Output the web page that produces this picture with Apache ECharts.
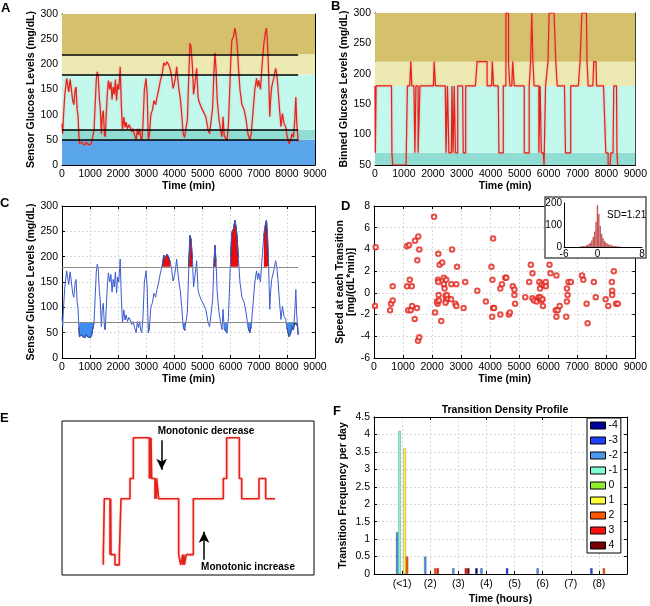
<!DOCTYPE html>
<html>
<head>
<meta charset="utf-8">
<script src="https://cdn.jsdelivr.net/npm/echarts@6/dist/echarts.min.js"></script>
<style>
html, body { margin: 0; padding: 0; background: #fff; }
#chart { width: 650px; height: 606px; }
</style>
</head>
<body>
<div id="chart"></div>
<script>
// ---- sensor trace, panels A / B / C (min, mg/dL) ----
const glucoseTime = [0, 25, 50, 100, 166, 200, 240, 290, 330, 380, 420, 470, 500, 540, 570, 600, 620, 660, 700, 740, 780, 820, 860, 900, 950, 1000, 1050, 1100, 1140, 1180, 1220, 1256, 1290, 1330, 1360, 1400, 1430, 1470, 1510, 1540, 1570, 1610, 1650, 1700, 1740, 1780, 1820, 1860, 1900, 1940, 1980, 2020, 2070, 2110, 2150, 2200, 2240, 2280, 2330, 2380, 2430, 2480, 2530, 2580, 2640, 2680, 2720, 2760, 2800, 2840, 2880, 2930, 2990, 3030, 3070, 3110, 3160, 3220, 3270, 3330, 3380, 3440, 3500, 3560, 3620, 3680, 3730, 3790, 3850, 3900, 3950, 3990, 4030, 4080, 4120, 4160, 4210, 4260, 4310, 4360, 4410, 4460, 4500, 4550, 4590, 4640, 4680, 4730, 4790, 4840, 4880, 4950, 5040, 5120, 5200, 5250, 5300, 5360, 5400, 5440, 5480, 5520, 5580, 5640, 5690, 5730, 5770, 5820, 5870, 5920, 5960, 6000, 6040, 6100, 6150, 6190, 6230, 6270, 6330, 6400, 6480, 6550, 6620, 6680, 6730, 6800, 6860, 6920, 6960, 7000, 7060, 7120, 7180, 7240, 7275, 7310, 7350, 7390, 7420, 7460, 7530, 7600, 7640, 7680, 7740, 7790, 7840, 7900, 7960, 8000, 8040, 8080, 8130, 8180, 8230, 8280, 8318, 8350, 8380, 8400];
const glucoseValue = [82, 62, 95, 140, 172, 160, 145, 170, 168, 128, 120, 150, 155, 110, 98, 60, 42, 40, 46, 42, 45, 40, 46, 42, 44, 40, 44, 47, 70, 120, 170, 185, 175, 130, 115, 62, 95, 108, 60, 56, 95, 140, 168, 150, 165, 130, 155, 140, 170, 128, 160, 150, 195, 120, 70, 95, 75, 85, 72, 80, 75, 66, 72, 60, 50, 72, 60, 72, 55, 50, 80, 150, 172, 140, 50, 60, 100, 110, 128, 120, 135, 150, 168, 180, 203, 198, 205, 200, 190, 175, 152, 160, 172, 195, 170, 150, 132, 100, 62, 55, 56, 90, 160, 242, 235, 195, 140, 162, 192, 135, 125, 115, 105, 95, 69, 62, 65, 115, 180, 223, 190, 130, 92, 70, 56, 96, 58, 60, 49, 80, 140, 200, 248, 255, 272, 260, 240, 200, 150, 120, 110, 89, 60, 50, 62, 109, 150, 172, 155, 168, 150, 200, 241, 265, 272, 241, 182, 96, 130, 155, 172, 192, 180, 155, 109, 76, 102, 82, 76, 60, 50, 42, 48, 62, 55, 90, 135, 85, 62, 46];
const bandEdges = [0, 50, 70, 180, 220, 300];
const binLevels = [50, 70, 180, 220, 300];
const lowThreshold = 70;
const highThreshold = 180;
const traceEnd = 8400;
const hyperIntervals = [[3550, 3860], [4500, 4660], [5390, 5490], [6000, 6290], [7170, 7360]];
const hypoIntervals = [[590, 1140], [1490, 1560], [2620, 2670], [3050, 3120], [4300, 4420], [5680, 5700], [5760, 5880], [6610, 6740], [7990, 8400]];

// ---- panel D: speed at each transition ----
const speedTime = [56, 34, 554, 588, 644, 644, 1130, 1209, 1141, 1300, 1232, 1175, 1265, 1311, 1401, 1412, 1525, 1491, 1559, 1480, 1514, 1559, 2068, 2102, 2215, 2260, 2350, 2203, 2215, 2192, 2170, 2237, 2226, 2316, 2407, 2486, 2407, 2430, 2463, 2486, 2463, 2531, 2655, 2508, 2689, 2667, 2859, 2836, 2802, 2836, 3141, 3085, 3559, 3853, 4045, 4079, 4102, 4068, 4102, 4135, 4350, 4407, 4350, 4520, 4554, 4644, 4678, 4780, 4836, 4836, 4859, 5209, 5401, 5458, 5345, 5458, 5514, 5605, 5672, 5718, 5729, 5763, 5819, 5808, 5695, 5718, 5774, 5853, 5910, 5921, 6045, 6079, 6282, 6282, 6260, 6327, 6395, 6621, 6644, 6667, 6644, 6701, 6780, 7164, 7209, 7322, 7356, 7571, 7638, 7977, 8068, 8192, 8203, 8203, 8260, 8339, 8396];
const speedValue = [4.2, -1.2, -1.6, -1.0, -0.7, 0.6, 4.3, 4.4, 0.6, 0.6, 1.2, -1.6, -1.6, -1.2, -2.4, 4.8, 5.2, 3.0, 4.0, -1.4, -4.4, -4.1, 7.0, -1.8, 3.6, 2.6, 2.8, 1.2, 1.0, -1.0, -0.8, -0.7, -0.2, -2.6, 1.4, 1.2, 0.8, 0.4, -0.3, -0.7, -0.9, -0.5, -0.6, -0.2, 4.0, 0.8, 2.4, 0.8, -1.0, -1.2, 1.0, -1.4, 0.2, -0.8, 2.4, 1.2, 5.0, -2.2, -1.4, -1.4, 0.4, 0.8, -2.0, 1.4, 1.4, -2.0, -1.8, 0.6, 0.3, -0.2, -1.0, -0.4, 2.6, 1.8, 1.0, -0.5, -0.7, -0.8, -0.4, -0.6, -0.4, -0.7, -1.2, -0.6, 1.0, 0.4, 0.8, 0.7, 1.0, 0.6, 2.6, 1.8, 1.6, -2.2, -1.6, -1.6, -1.2, -2.2, 0.4, -0.2, -0.8, 1.0, 1.0, 1.6, 1.2, -1.0, -2.8, 1.0, -0.4, -0.6, -1.2, 1.0, 0.2, -0.2, 2.0, -1.0, -1.0];
const histCenters = [-3, -2.75, -2.5, -2.25, -2, -1.75, -1.5, -1.25, -1, -0.75, -0.5, -0.25, 0, 0.25, 0.5, 0.75, 1, 1.25, 1.5, 1.75, 2, 2.25, 2.5, 2.75, 3, 3.25, 3.5, 3.75, 4];
const histCounts = [2, 3, 4, 5, 7, 10, 14, 20, 30, 45, 70, 115, 190, 150, 95, 60, 40, 28, 20, 16, 12, 10, 8, 6, 5, 4, 3, 2, 2];
const speedSD = 1.21;

// ---- panel E: schematic binned trace ----
const stepX = [124, 124, 127, 127, 144, 144, 146, 146, 147, 147, 159, 159, 172, 172, 177, 177, 204, 204, 214, 214, 262, 262, 263, 263, 265, 265, 267, 267, 269, 269, 279, 279, 280, 280, 283, 283, 284, 284, 290, 290, 350, 350, 356, 356, 362, 362, 363, 363, 366, 366, 367, 367, 373, 373, 379, 379, 394, 394, 484, 484, 494, 494, 532, 532, 539, 539, 591, 591, 611, 611, 639];
const stepY = [50, 70, 70, 180, 180, 70, 70, 180, 180, 70, 70, 50, 50, 70, 70, 180, 180, 220, 220, 300, 300, 220, 220, 300, 300, 220, 220, 300, 300, 220, 220, 180, 180, 220, 220, 180, 180, 220, 220, 180, 180, 70, 70, 50, 50, 70, 70, 50, 50, 70, 70, 50, 50, 70, 70, 70, 70, 180, 180, 220, 220, 300, 300, 220, 220, 180, 180, 220, 220, 180, 180];
const arrowDecrease = [[299, 295], [299, 237]];
const arrowIncrease = [[426, 60], [426, 115]];

// ---- panel F: transition density profile ----
const hourLabels = ['', '(<1)', '(2)', '(3)', '(4)', '(5)', '(6)', '(7)', '(8)', ''];
const transitionNames = ['-4', '-3', '-2', '-1', '0', '1', '2', '3', '4'];
const freqM4 = [0, 0, 0, 0.17, 0, 0, 0, 0];
const freqM3 = [0, 0, 0, 0, 0.17, 0, 0, 0.17];
const freqM2 = [1.2, 0.5, 0.17, 0.17, 0, 0.17, 0, 0];
const freqM1 = [4.1, 0, 0, 0, 0, 0, 0, 0];
const freq0 = [0, 0, 0, 0, 0, 0, 0, 0];
const freqP1 = [3.6, 0, 0, 0, 0, 0, 0, 0];
const freqP2 = [0.5, 0.17, 0, 0, 0, 0, 0, 0.17];
const freqP3 = [0, 0.17, 0.17, 0, 0, 0, 0, 0];
const freqP4 = [0, 0, 0.17, 0, 0, 0, 0, 0];
const freqByLevel = [freqM4, freqM3, freqM2, freqM1, freq0, freqP1, freqP2, freqP3, freqP4];

const font = 'Liberation Sans';
const bandColors = ['#5aa6ec', '#8fddd3', '#c3f8ed', '#ece9b2', '#d5c06c'];
const levelColors = ['#00009a', '#1f3fff', '#4b97ee', '#7fffd2', '#8cf02c', '#ffff3c', '#ff5800', '#ff1010', '#780000'];

const binned = g => binLevels.find(l => g < l) || 300;
const inAny = (t, list) => list.some(r => t >= r[0] && t <= r[1]);
const trace = glucoseTime.map((t, i) => [t, glucoseValue[i]]);

function axis(type, gridIndex, extra) {
    return Object.assign({
        type: type, gridIndex: gridIndex,
        axisLine: { show: true, onZero: false, lineStyle: { color: '#000', width: 1 } },
        axisTick: { show: true, inside: true, length: 3, lineStyle: { color: '#000' } },
        axisLabel: { color: '#000', fontSize: 10.5, fontFamily: font, margin: 4, formatter: v => String(v) },
        splitLine: { show: false },
        nameLocation: 'middle',
        nameTextStyle: { color: '#000', fontSize: 10.5, fontWeight: 'bold', fontFamily: font }
    }, extra);
}
// top / right copies so every frame gets a box with ticks
function mirror(src, pos) {
    return Object.assign({}, src, {
        position: pos, name: '', axisLabel: { show: false }, splitLine: { show: false }
    });
}
const gridLine = { show: true, lineStyle: { color: '#d9d9d9', width: 1, type: [2, 2] } };

const xA = axis('value', 0, { min: 0, max: 9000, interval: 1000, name: 'Time (min)', nameGap: 15 });
const xB = axis('value', 1, { min: 0, max: 9000, interval: 1000, name: 'Time (min)', nameGap: 15 });
const xC = axis('value', 2, { min: 0, max: 9000, interval: 1000, name: 'Time (min)', nameGap: 15, splitLine: gridLine });
const xD = axis('value', 3, { min: 0, max: 9000, interval: 1000, name: 'Time (min)', nameGap: 14, splitLine: gridLine });
const xIn = axis('value', 4, { min: -6, max: 8, interval: 2, z: 3,
    axisTick: { show: false },
    axisLabel: { color: '#000', fontSize: 10, fontFamily: font, margin: 2,
        formatter: v => (v === -6 || v === 0 || v === 8) ? String(v) : '' } });
const xE = { type: 'value', gridIndex: 5, min: 0, max: 756, show: false };
const xF = axis('category', 6, { data: hourLabels, boundaryGap: false, name: 'Time (hours)', nameGap: 20,
    axisTick: { show: true, inside: true, length: 3, alignWithLabel: true, lineStyle: { color: '#000' } },
    axisLabel: { color: '#000', fontSize: 10.5, fontFamily: font, margin: 5, interval: 0 },
    splitLine: gridLine });

const yA = axis('value', 0, { min: 0, max: 300, interval: 50, name: 'Sensor Glucose Levels (mg/dL)', nameGap: 25 });
const yB = axis('value', 1, { min: 50, max: 300, interval: 50, name: 'Binned Glucose Levels (mg/dL)', nameGap: 24 });
const yC = axis('value', 2, { min: 0, max: 300, interval: 50, name: 'Sensor Glucose Levels (mg/dL)', nameGap: 25, splitLine: gridLine });
const yD = axis('value', 3, { min: -6, max: 8, interval: 2, name: 'Speed at each Transition\n[mg/(dL*min)]', nameGap: 11,
    nameTextStyle: { color: '#000', fontSize: 10.5, fontWeight: 'bold', fontFamily: font, lineHeight: 11 },
    splitLine: gridLine });
const yIn = axis('value', 4, { min: 0, max: 200, interval: 100, z: 3,
    axisTick: { show: false },
    axisLabel: { color: '#000', fontSize: 10, fontFamily: font, margin: 2 } });
const yE = { type: 'value', gridIndex: 5, min: 30, max: 333, show: false };
const yF = axis('value', 6, { min: 0, max: 4.5, interval: 0.5, name: 'Transition Frequency per day', nameGap: 25, splitLine: gridLine });

const noAnim = { animation: false, silent: true };

const series = [
    // A: raw sensor trace over glycaemic bands
    Object.assign({
        type: 'line', xAxisIndex: 0, yAxisIndex: 0, data: trace, showSymbol: false, z: 3,
        lineStyle: { color: '#e2231a', width: 1.2, shadowColor: 'rgba(255,120,120,0.7)', shadowBlur: 2 },
        markArea: { silent: true, data: bandColors.map((c, i) => [{ yAxis: bandEdges[i], itemStyle: { color: c } }, { yAxis: bandEdges[i + 1] }]) },
        markLine: { silent: true, symbol: 'none', label: { show: false },
            lineStyle: { color: '#000', width: 1.6, type: 'solid' },
            data: bandEdges.slice(1, 5).map(v => [{ coord: [0, v] }, { coord: [traceEnd, v] }]) }
    }, noAnim),
    // B: binned trace
    Object.assign({
        type: 'line', xAxisIndex: 1, yAxisIndex: 1, step: 'middle', showSymbol: false, z: 3,
        data: glucoseTime.map((t, i) => [t, binned(glucoseValue[i])]),
        lineStyle: { color: '#e2231a', width: 1.2, shadowColor: 'rgba(255,120,120,0.7)', shadowBlur: 2 },
        markArea: { silent: true, data: bandColors.slice(1).map((c, i) => [{ yAxis: bandEdges[i + 1], itemStyle: { color: c } }, { yAxis: bandEdges[i + 2] }]) }
    }, noAnim),
    // C: hyper / hypo excursions
    Object.assign({
        type: 'line', xAxisIndex: 2, yAxisIndex: 2, showSymbol: false, z: 3, connectNulls: false,
        data: glucoseTime.map((t, i) => [t, inAny(t, hyperIntervals) ? Math.max(glucoseValue[i], highThreshold) : null]),
        lineStyle: { color: '#222', width: 1 },
        areaStyle: { color: '#e80c0c', opacity: 1, origin: highThreshold }
    }, noAnim),
    Object.assign({
        type: 'line', xAxisIndex: 2, yAxisIndex: 2, showSymbol: false, z: 3, connectNulls: false,
        data: glucoseTime.map((t, i) => [t, inAny(t, hypoIntervals) ? Math.min(glucoseValue[i], lowThreshold) : null]),
        lineStyle: { color: '#222', width: 1 },
        areaStyle: { color: '#3d8ef0', opacity: 1, origin: lowThreshold }
    }, noAnim),
    Object.assign({
        type: 'line', xAxisIndex: 2, yAxisIndex: 2, data: trace, showSymbol: false, z: 4,
        lineStyle: { color: '#3b5bd0', width: 1 },
        markLine: { silent: true, symbol: 'none', label: { show: false },
            lineStyle: { color: '#8a8a8a', width: 1, type: 'solid' },
            data: [lowThreshold, highThreshold].map(v => [{ coord: [0, v] }, { coord: [traceEnd, v] }]) }
    }, noAnim),
    // D: speed scatter + histogram inset
    Object.assign({
        type: 'scatter', xAxisIndex: 3, yAxisIndex: 3, symbol: 'emptyCircle', symbolSize: 4.5, z: 3,
        data: speedTime.map((t, i) => [t, speedValue[i]]),
        itemStyle: { color: '#e2231a', borderColor: '#e2231a', borderWidth: 0.8 }
    }, noAnim),
    Object.assign({
        type: 'bar', xAxisIndex: 4, yAxisIndex: 4, z: 4, barWidth: 1.4,
        data: histCenters.map((c, i) => [c, histCounts[i]]),
        itemStyle: { color: '#c25454' }
    }, noAnim),
    // E: schematic with monotonic arrows
    Object.assign({
        type: 'line', xAxisIndex: 5, yAxisIndex: 5, showSymbol: false,
        data: stepX.map((x, i) => [x, stepY[i]]),
        lineStyle: { color: '#e2231a', width: 1.6, shadowColor: 'rgba(255,120,120,0.7)', shadowBlur: 2 },
        markLine: { silent: true, symbol: ['none', 'arrow'], symbolSize: [8, 11], label: { show: false },
            lineStyle: { color: '#000', width: 1.5, type: 'solid' },
            data: [arrowDecrease, arrowIncrease].map(a => [{ coord: a[0] }, { coord: a[1] }]) }
    }, noAnim)
];
// F: grouped bars, one series per transition size
transitionNames.forEach((name, k) => {
    series.push(Object.assign({
        type: 'bar', name: name, xAxisIndex: 6, yAxisIndex: 6, barWidth: 2.5, barGap: '0%',
        data: [null].concat(freqByLevel[k].map(v => v > 0 ? v : null), [null]),
        itemStyle: { color: levelColors[k], borderColor: 'rgba(0,0,0,0.45)', borderWidth: 0.5 }
    }, noAnim));
});

const letters = [['A', 1, 2], ['B', 331, 0], ['C', 0, 197], ['D', 341, 200], ['E', 0, 412], ['F', 333, 405]];

const option = {
    animation: false,
    backgroundColor: '#fff',
    textStyle: { fontFamily: font },
    grid: [
        { left: 62, top: 14, width: 253, height: 151 },
        { left: 375, top: 13, width: 263, height: 152 },
        { left: 62, top: 206, width: 253, height: 152 },
        { left: 374, top: 206, width: 266, height: 152 },
        { left: 564, top: 203, width: 78, height: 44 },
        { left: 62, top: 421, width: 252, height: 154, show: true, borderColor: '#000', borderWidth: 1 },
        { left: 374, top: 417, width: 253, height: 157 }
    ],
    xAxis: [xA, xB, xC, xD, xIn, xE, xF,
        mirror(xA, 'top'), mirror(xB, 'top'), mirror(xC, 'top'), mirror(xD, 'top'), mirror(xF, 'top')],
    yAxis: [yA, yB, yC, yD, yIn, yE, yF,
        mirror(yA, 'right'), mirror(yB, 'right'), mirror(yC, 'right'), mirror(yD, 'right'), mirror(yF, 'right')],
    legend: {
        data: transitionNames, orient: 'vertical', left: 587, top: 418,
        icon: 'rect', itemWidth: 15, itemHeight: 7, itemGap: 4, padding: [2, 3],
        backgroundColor: '#fff', borderColor: '#000', borderWidth: 1,
        itemStyle: { borderColor: '#000', borderWidth: 1 },
        textStyle: { fontSize: 10.5, fontFamily: font, color: '#000', padding: [0, 0, 0, -2] },
        selectedMode: false
    },
    title: {
        text: 'Transition Density Profile', left: 500, top: 400, textAlign: 'center',
        textStyle: { fontSize: 10.5, fontWeight: 'bold', fontFamily: font, color: '#000' }
    },
    graphic: [
        { type: 'rect', z: 1, shape: { x: 545, y: 197, width: 101, height: 61 },
            style: { fill: '#fff', stroke: '#555', lineWidth: 1.5 } },
        { type: 'text', z: 10, x: 607, y: 210, style: { text: 'SD=' + speedSD, fontSize: 10, fontFamily: font, fill: '#000' } },
        { type: 'text', z: 10, x: 206, y: 426, style: { text: 'Monotonic decrease', textAlign: 'center', fontSize: 10, fontWeight: 'bold', fontFamily: font, fill: '#000' } },
        { type: 'text', z: 10, x: 248, y: 562, style: { text: 'Monotonic increase', textAlign: 'center', fontSize: 10, fontWeight: 'bold', fontFamily: font, fill: '#000' } }
    ].concat(letters.map(l => ({
        type: 'text', z: 10, x: l[1], y: l[2],
        style: { text: l[0], fontSize: 13, fontWeight: 'bold', fontFamily: font, fill: '#000' }
    }))),
    series: series
};

const chart = echarts.init(document.getElementById('chart'));
chart.setOption(option);
</script>
</body>
</html>
